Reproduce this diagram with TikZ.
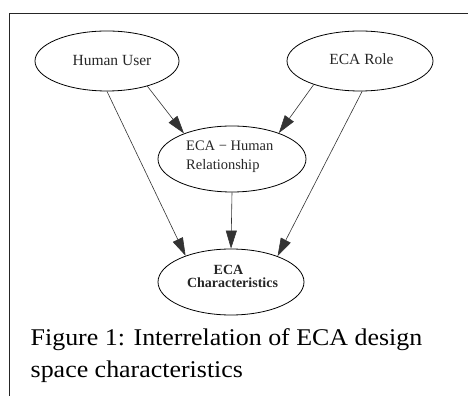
\documentclass[tikz,border=0pt]{standalone}
\usepackage{fontspec}
\setmainfont{Liberation Serif}
\usetikzlibrary{shapes.geometric,arrows.meta}
\begin{document}
\begin{tikzpicture}[x=1pt,y=1pt,
  ell/.style={draw, ellipse, inner sep=0pt, line width=0.8pt},
  lbl/.style={inner sep=0pt, anchor=base, text=black!85},
  nodefont/.style={font=\fontsize{15.5}{18}\selectfont},
  relfont/.style={font=\fontsize{14.5}{18}\selectfont},
  boldfont/.style={font=\fontsize{14}{12}\selectfont\bfseries},
  capfont/.style={font=\fontsize{24}{30}\selectfont},
  arr/.style={-{Triangle[length=18pt,width=11pt]}, line width=0.6pt, black!80}]
\useasboundingbox (0,0) rectangle (468,396);
\draw[line width=1.5pt, black!85] (9.5,0) -- (9.5,382.5) -- (468,382.5);

\node[ell, minimum width=144pt, minimum height=60pt] (hu) at (107,335) {};
\node[ell, minimum width=146pt, minimum height=60pt] (role) at (360,335) {};
\node[ell, minimum width=148pt, minimum height=66pt] (rel) at (232,237) {};
\node[ell, minimum width=146pt, minimum height=66pt] (char) at (231,114) {};

\node[lbl, nodefont] (hut) at (112,330) {Human User};
\node[lbl, nodefont] (rolet) at (361.5,331) {ECA Role};
\node[lbl, relfont, anchor=base west] (relt1) at (186,245) {ECA − Human};
\node[lbl, relfont, anchor=base west] (relt2) at (186,226) {Relationship};
\node[lbl, boldfont] (chart1) at (228.5,121) {ECA};
\node[lbl, boldfont] (chart2) at (232.5,108) {Characteristics};

\node[lbl, capfont, anchor=base west, text=black] (cap1) at (30.5,51) {\scalebox{1.08}[1]{Figure 1: Interrelation of ECA design}};
\node[lbl, capfont, anchor=base west, text=black] (cap2) at (30.5,19) {\scalebox{1.08}[1]{space characteristics}};

\draw[arr] (hu.-32) -- (rel.152);
\draw[arr] (hu.-90) -- (char.150);
\draw[arr] (role.-153) -- (rel.29);
\draw[arr] (role.-86) -- (char.29.5);
\draw[arr] (rel.south) -- (char.north);
\end{tikzpicture}
\end{document}
